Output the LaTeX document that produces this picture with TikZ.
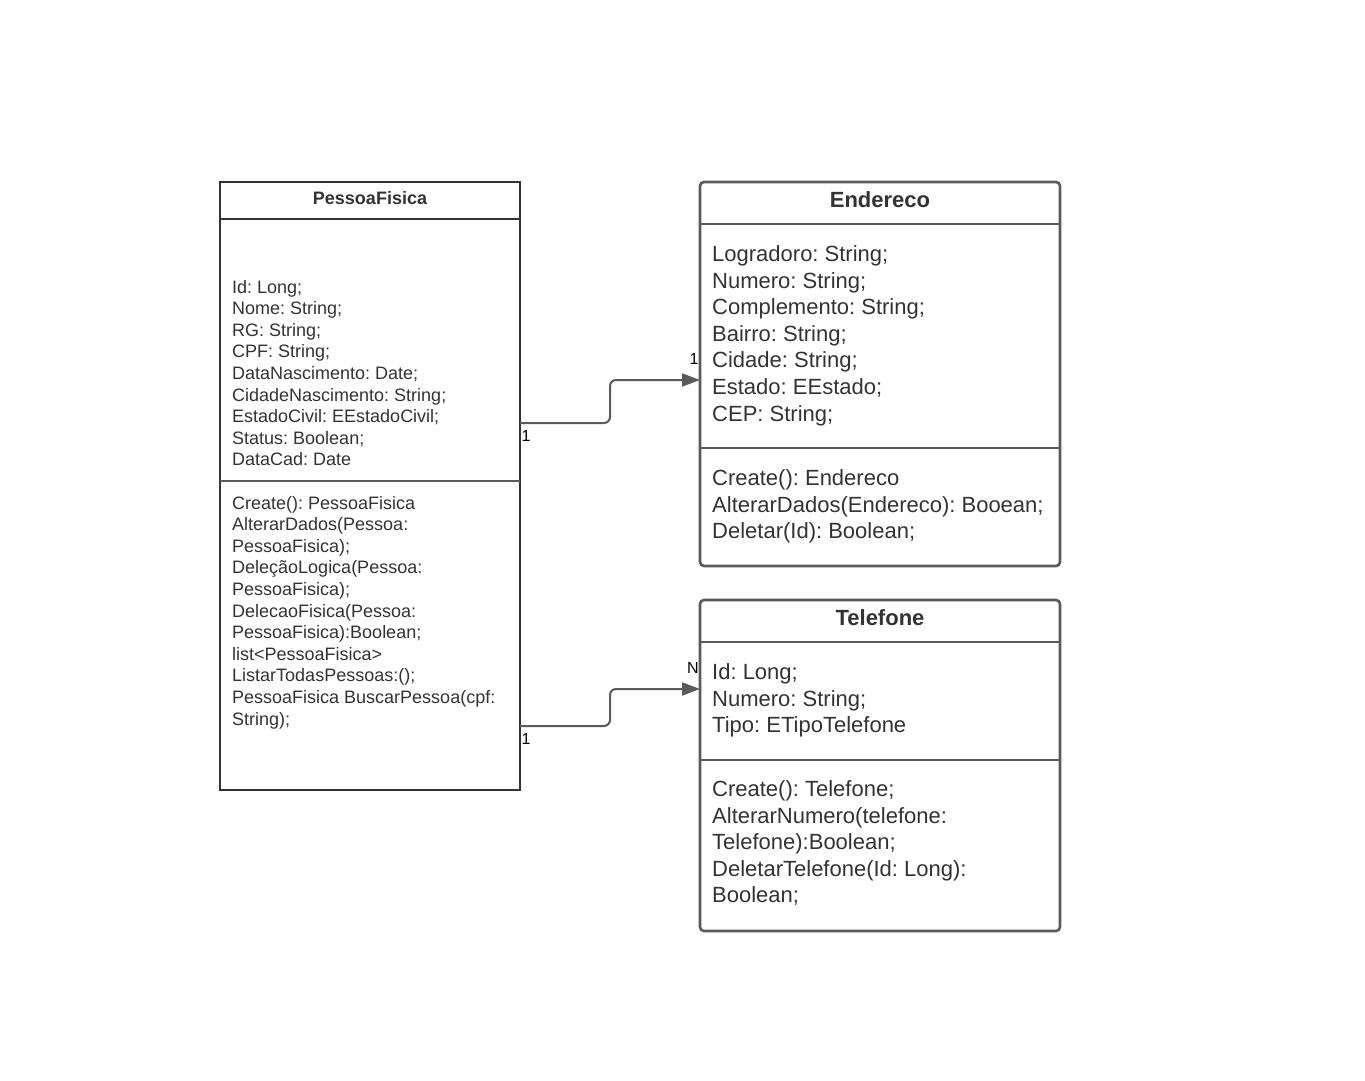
\documentclass[tikz,border=0pt]{standalone}
\usepackage{fontspec}
\setmainfont{Liberation Sans}
\usetikzlibrary{arrows.meta}
\definecolor{ink}{HTML}{333333}
\definecolor{edge}{HTML}{5A5A5A}
\frenchspacing
\begin{document}
\begin{tikzpicture}[x=1pt,y=-1pt,
  sharpbox/.style={draw=ink,line width=2pt,inner sep=0pt,outer sep=0pt,anchor=north west},
  roundbox/.style={draw=edge,line width=2.6pt,rounded corners=4pt,inner sep=0pt,outer sep=0pt,anchor=north west},
  sepline/.style={draw=ink,line width=2pt},
  septhick/.style={draw=edge,line width=2.6pt},
  smalltxt/.style={text=ink,inner sep=0pt,anchor=base west,font=\fontsize{18}{21.6}\selectfont},
  bigtxt/.style={text=ink,inner sep=0pt,anchor=base west,font=\fontsize{22}{26.4}\selectfont},
  smalltitle/.style={text=ink,inner sep=0pt,font=\fontsize{18}{21.6}\selectfont\bfseries},
  bigtitle/.style={text=ink,inner sep=0pt,font=\fontsize{22}{26.4}\selectfont\bfseries},
  mult/.style={text=black,inner sep=0pt,font=\fontsize{16}{19}\selectfont},
  conn/.style={draw=edge,line width=2pt,rounded corners=6pt,-{Triangle[length=18pt,width=13pt]}}]
\useasboundingbox[fill=white] (0,0) rectangle (1365,1080);

% ---------- PessoaFisica ----------
\node[sharpbox,minimum width=300pt,minimum height=608pt] (pf) at (220,182) {};
\draw[sepline] (220,219) -- (520,219);
\draw[septhick] (220,481) -- (520,481);
\node[smalltitle] (pft) at (370,198) {PessoaFisica};
\foreach \t [count=\i] in {{Id: Long;},{Nome: String;},{RG: String;},{CPF: String;},
  {DataNascimento: Date;},{CidadeNascimento: String;},{EstadoCivil: EEstadoCivil;},
  {Status: Boolean;},{DataCad: Date}}
  \node[smalltxt] (pfa\i) at (232,{293+(\i-1)*21.6}) {\t};
\foreach \t [count=\i] in {{Create(): PessoaFisica},{AlterarDados(Pessoa:},{PessoaFisica);},
  {DeleçãoLogica(Pessoa:},{PessoaFisica);},{DelecaoFisica(Pessoa:},
  {PessoaFisica):Boolean;},{list<PessoaFisica>},{ListarTodasPessoas:();},
  {PessoaFisica BuscarPessoa(cpf:},{String);}}
  \node[smalltxt] (pfm\i) at (232,{509+(\i-1)*21.6}) {\t};

% ---------- Endereco ----------
\node[roundbox,minimum width=360pt,minimum height=384pt] (en) at (700,182) {};
\draw[septhick] (700,224) -- (1060,224);
\draw[septhick] (700,448) -- (1060,448);
\node[bigtitle] (ent) at (880,200) {Endereco};
\foreach \t [count=\i] in {{Logradoro: String;},{Numero: String;},{Complemento: String;},
  {Bairro: String;},{Cidade: String;},{Estado: EEstado;},{CEP: String;}}
  \node[bigtxt] (ena\i) at (712,{261.5+(\i-1)*26.6}) {\t};
\foreach \t [count=\i] in {{Create(): Endereco},{AlterarDados(Endereco): Booean;},
  {Deletar(Id): Boolean;}}
  \node[bigtxt] (enm\i) at (712,{485.5+(\i-1)*26.6}) {\t};

% ---------- Telefone ----------
\node[roundbox,minimum width=360pt,minimum height=331pt] (tf) at (700,600) {};
\draw[septhick] (700,642) -- (1060,642);
\draw[septhick] (700,760) -- (1060,760);
\node[bigtitle] (tft) at (880,618) {Telefone};
\foreach \t [count=\i] in {{Id: Long;},{Numero: String;},{Tipo: ETipoTelefone}}
  \node[bigtxt] (tfa\i) at (712,{679.5+(\i-1)*26.6}) {\t};
\foreach \t [count=\i] in {{Create(): Telefone;},{AlterarNumero(telefone:},
  {Telefone):Boolean;},{DeletarTelefone(Id: Long):},{Boolean;}}
  \node[bigtxt] (tfm\i) at (712,{796.5+(\i-1)*26.6}) {\t};

% ---------- associations ----------
\coordinate (s1) at ([yshift=-241pt]pf.north east);
\coordinate (e1) at ([yshift=-198pt]en.north west);
\coordinate (s2) at ([yshift=-544pt]pf.north east);
\coordinate (e2) at ([yshift=-89pt]tf.north west);
\draw[conn] (s1) -- (610,423) -- (610,380) -- (e1);
\draw[conn] (s2) -- (610,726) -- (610,689) -- (e2);
\node[mult] (m1a) at (526,436) {1};
\node[mult] (m1b) at (694,359) {1};
\node[mult] (m2a) at (526,739) {1};
\node[mult] (m2b) at (693,668) {N};
\end{tikzpicture}
\end{document}
